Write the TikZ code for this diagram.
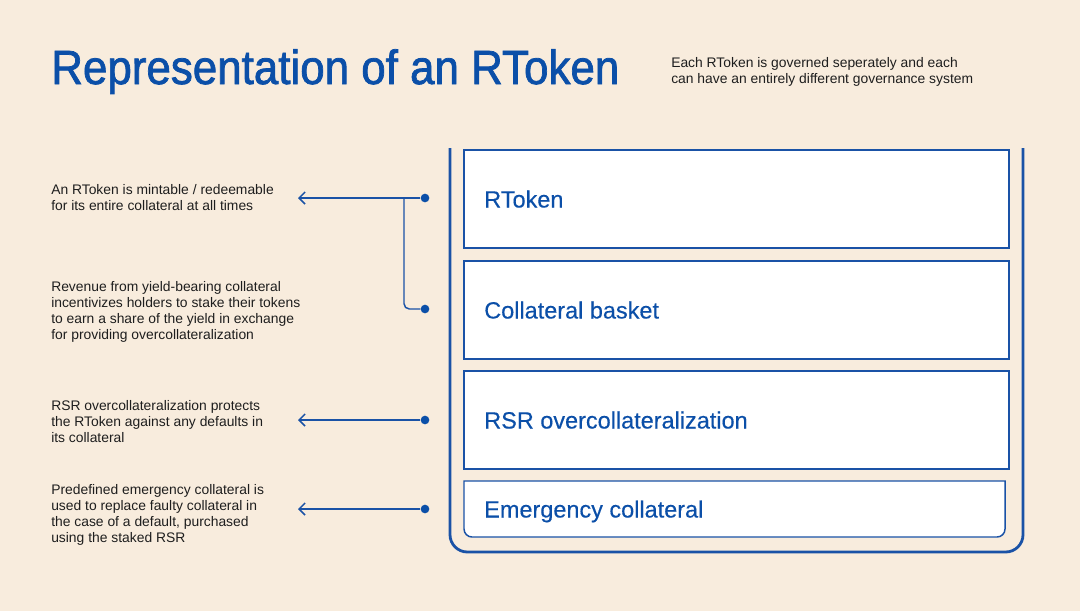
\documentclass[tikz,border=0pt]{standalone}
\usepackage{fontspec}
\setmainfont{Liberation Sans}
\newfontfamily\titlefont[FakeBold=1.6]{Liberation Sans}
\newfontfamily\labelfont[FakeBold=0.3]{Liberation Sans}
\usetikzlibrary{arrows.meta}
\definecolor{bg}{HTML}{F8ECDD}
\definecolor{rblue}{HTML}{1A52A6}
\definecolor{tblue}{HTML}{0B4FA8}
\definecolor{ink}{HTML}{1E1E1E}
\tikzset{
  box/.style={draw=rblue, fill=white, line width=1.1pt},
  boxlabel/.style={anchor=base west, inner sep=0pt, text=tblue, font=\labelfont\fontsize{17.6pt}{21pt}\selectfont},
  note/.style={anchor=north west, inner sep=0pt, align=left, text=ink, font=\fontsize{10.4pt}{12pt}\selectfont},
  dotnode/.style={circle, fill=tblue, inner sep=0pt, minimum size=6.5pt},
  conn/.style={draw=rblue, line width=1.1pt},
  arr/.style={conn, -{Straight Barb[length=4.5pt,width=9pt,line width=1.1pt]}}
}
\begin{document}
\begin{tikzpicture}[x=0.75pt,y=-0.75pt]
\fill[bg] (0,0) rectangle (1080,611);
\useasboundingbox (0,0) rectangle (1080,611);

% title
\node[anchor=base west, inner sep=0pt, text=tblue, font=\titlefont\fontsize{36pt}{40pt}\selectfont] (title) at (51,84) {\scalebox{0.915}[1]{Representation of an RToken}};
\node[note] (sub) at (671,57) {Each RToken is governed seperately and each\\can have an entirely different governance system};

% outer container
\draw[draw=rblue, line width=2.1pt, rounded corners=13pt] (450,148) -- (450,552) -- (1023,552) -- (1023,148);

% boxes
\draw[box] (464,150) rectangle (1009,248);
\draw[box] (464,261) rectangle (1009,359);
\draw[box] (464,371) rectangle (1009,469);
\draw[box] (464,481) -- (1005,481) {[rounded corners=6pt] -- (1005,537) -- (464,537)} -- cycle;

\node[boxlabel] (l1) at (484,207.5) {RToken};
\node[boxlabel] (l2) at (484,318.5) {Collateral basket};
\node[boxlabel] (l3) at (484,428.5) {RSR overcollateralization};
\node[boxlabel] (l4) at (484,517.5) {Emergency collateral};

% dots
\node[dotnode] (d1) at (425,198) {};
\node[dotnode] (d2) at (425,309) {};
\node[dotnode] (d3) at (425,420) {};
\node[dotnode] (d4) at (425,509) {};
\coordinate (a1) at (298,198);
\coordinate (a3) at (298,420);
\coordinate (a4) at (298,509);
\coordinate (br) at (404,198);

\draw[arr] (d1) -- (a1);
\draw[arr] (d3) -- (a3);
\draw[arr] (d4) -- (a4);
\draw[conn, rounded corners=4pt] (br) -- (404,309) -- (d2);

% notes
\node[note] (n1) at (51,184) {An RToken is mintable / redeemable\\for its entire collateral at all times};
\node[note] (n2) at (51,281) {Revenue from yield-bearing collateral\\incentivizes holders to stake their tokens\\to earn a share of the yield in exchange\\for providing overcollateralization};
\node[note] (n3) at (51,400) {RSR overcollateralization protects\\the RToken against any defaults in\\its collateral};
\node[note] (n4) at (51,484) {Predefined emergency collateral is\\used to replace faulty collateral in\\the case of a default, purchased\\using the staked RSR};
\end{tikzpicture}
\end{document}
